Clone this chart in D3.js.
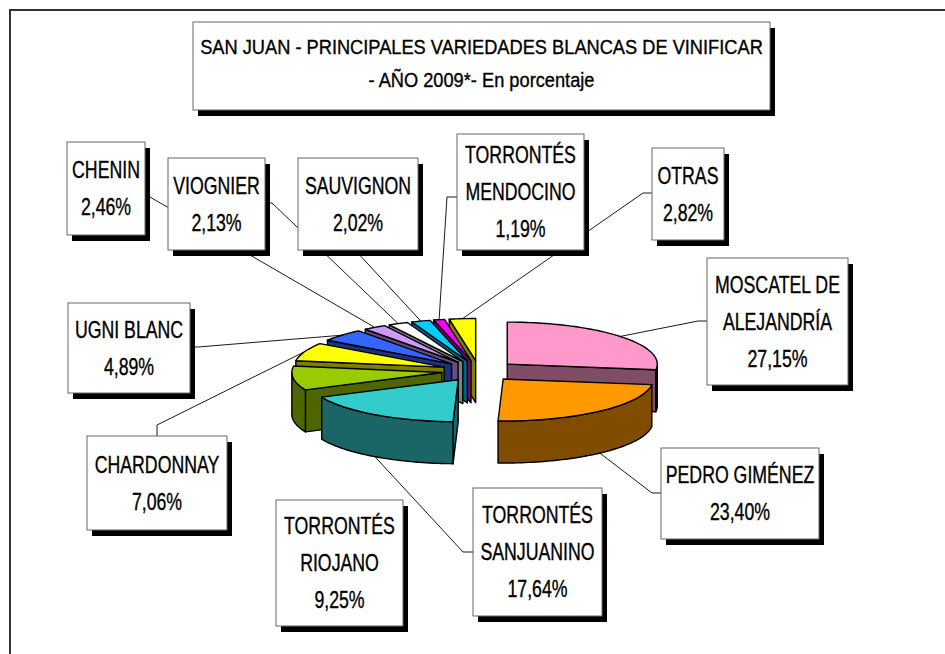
<!DOCTYPE html>
<html>
<head>
<meta charset="utf-8">
<script src="https://cdn.jsdelivr.net/npm/d3@7"></script>
<style>
  html, body { margin: 0; padding: 0; background: #fff; }
  svg { display: block; }
  text { font-family: "Liberation Sans", Arial, sans-serif; fill: #000; stroke: #000; stroke-width: 0.35; }
</style>
</head>
<body>
<div id="chart"></div>
<script>
// data (clockwise from 12 o'clock)
const varieties = ["MOSCATEL DE\nALEJANDRÍA", "PEDRO GIMÉNEZ", "TORRONTÉS\nSANJUANINO", "TORRONTÉS\nRIOJANO",
  "CHARDONNAY", "UGNI BLANC", "CHENIN", "VIOGNIER", "SAUVIGNON", "TORRONTÉS\nMENDOCINO", "OTRAS"];
const shares = [27.15, 23.40, 17.64, 9.25, 7.06, 4.89, 2.46, 2.13, 2.02, 1.19, 2.82];
const titleLines = ["SAN JUAN - PRINCIPALES VARIEDADES BLANCAS DE VINIFICAR", "- AÑO 2009*- En porcentaje"];

// styles
const sliceColors = ["#FF99CC", "#FF9900", "#33CCCC", "#99CC00", "#FFFF00", "#3366FF",
  "#CC99FF", "#FFFFFF", "#00CCFF", "#FF00FF", "#FFFF00"];

// label boxes: x, y, w, h, leader start + elbow
const boxes = [
  {x: 707, y: 258, w: 141, h: 127, s: [707, 321], e: [698, 321]},
  {x: 661, y: 448, w: 158, h: 91,  s: [661, 493], e: [652, 493]},
  {x: 473, y: 488, w: 129, h: 128, s: [473, 552], e: [463, 552]},
  {x: 276, y: 500, w: 127, h: 126, s: null},
  {x: 87,  y: 436, w: 140, h: 94,  s: [157, 436], e: [157, 425]},
  {x: 68,  y: 303, w: 122, h: 90,  s: [190, 347], e: [198, 347]},
  {x: 67,  y: 142, w: 78,  h: 93,  s: [145, 195], e: [150, 197]},
  {x: 168, y: 158, w: 97,  h: 92,  s: [265, 203], e: [272, 203]},
  {x: 298, y: 158, w: 120, h: 92,  s: [355, 250], e: [355, 250]},
  {x: 457, y: 134, w: 127, h: 116, s: [457, 197], e: [447, 197]},
  {x: 652, y: 148, w: 72,  h: 92,  s: [652, 193], e: [643, 193]}
];

const width = 945, height = 654;
const cx = 479, cy = 371, rx = 150, ry = 42, depth = 42, explode = 0.25;

const svg = d3.select("#chart").append("svg")
  .attr("width", width).attr("height", height);

// frame
svg.append("rect")
  .attr("x", 10).attr("y", 10).attr("width", 1000).attr("height", 1000)
  .attr("fill", "none").attr("stroke", "#333").attr("stroke-width", 2);

const pie = d3.pie().sort(null).value(d => d)(shares);
const fmt = v => v.toFixed(2).replace(".", ",") + "%";
const shade = c => { const r = d3.rgb(c); return d3.rgb(r.r * 0.5, r.g * 0.5, r.b * 0.5).formatHex(); };

const slices = pie.map((p, i) => {
  const mid = (p.startAngle + p.endAngle) / 2;
  const tip = [cx + explode * rx * Math.sin(mid), cy - explode * ry * Math.cos(mid)];
  return {i, a0: p.startAngle, a1: p.endAngle, mid, tip};
});

function rim(tip, a, dy) {
  return [tip[0] + rx * Math.sin(a), tip[1] - ry * Math.cos(a) + (dy || 0)];
}
function arcPts(tip, a, b, dy) {
  const n = Math.max(2, Math.ceil((b - a) / (Math.PI / 120)));
  return d3.range(n + 1).map(k => rim(tip, a + (b - a) * k / n, dy));
}
const line = d3.line();

// leader lines
const leaders = svg.append("g").attr("fill", "none").attr("stroke", "#000").attr("stroke-width", 0.9);
slices.forEach(s => {
  const b = boxes[s.i];
  if (!b.s) return;
  const front = Math.cos(s.mid) < 0;
  const end = rim(s.tip, s.mid, front ? depth : 0);
  leaders.append("path").attr("d", line([b.s, b.e, end]));
});

// 3D pie, back slices first
const pieG = svg.append("g")
  .attr("stroke", "#000").attr("stroke-width", 1.4).attr("stroke-linejoin", "round");

slices.slice().sort((a, b) => -Math.cos(a.mid) + Math.cos(b.mid)).forEach(s => {
  const g = pieG.append("g");
  const col = sliceColors[s.i], dark = shade(col);
  const t = s.tip, tb = [t[0], t[1] + depth];
  if (Math.sin(s.a0) < -1e-6) {
    g.append("path").attr("fill", dark)
      .attr("d", line([t, rim(t, s.a0), rim(t, s.a0, depth), tb]) + "Z");
  }
  if (Math.sin(s.a1) > 1e-6) {
    g.append("path").attr("fill", dark)
      .attr("d", line([t, rim(t, s.a1), rim(t, s.a1, depth), tb]) + "Z");
  }
  const lo = Math.max(s.a0, Math.PI / 2), hi = Math.min(s.a1, Math.PI * 1.5);
  if (hi > lo) {
    g.append("path").attr("fill", dark)
      .attr("d", line(arcPts(t, lo, hi, 0).concat(arcPts(t, lo, hi, depth).reverse())) + "Z");
  }
  g.append("path").attr("fill", col)
    .attr("d", line([t].concat(arcPts(t, s.a0, s.a1, 0))) + "Z");
});

// boxes with drop shadow
function box(x, y, w, h) {
  svg.append("rect").attr("x", x + 5).attr("y", y + 6).attr("width", w).attr("height", h).attr("fill", "#000");
  svg.append("rect").attr("x", x).attr("y", y).attr("width", w).attr("height", h)
    .attr("fill", "#fff").attr("stroke", "#666").attr("stroke-width", 1);
}
function label(x, y, str, size, sx) {
  svg.append("text")
    .attr("transform", `translate(${x},${y}) scale(${sx},1)`)
    .attr("text-anchor", "middle").attr("dominant-baseline", "central")
    .attr("font-size", size).text(str);
}

// title
box(193, 22, 577, 88);
titleLines.forEach((d, k) => label(481.5, 47 + k * 33, d, 20.5, 0.89));

// data labels
slices.forEach(s => {
  const b = boxes[s.i];
  box(b.x, b.y, b.w, b.h);
  const lines = varieties[s.i].split("\n").concat(fmt(shares[s.i]));
  const lh = 37, top = b.y + b.h / 2 - (lines.length - 1) * lh / 2;
  lines.forEach((d, k) => label(b.x + b.w / 2, top + k * lh, d, 23, 0.77));
});
</script>
</body>
</html>
